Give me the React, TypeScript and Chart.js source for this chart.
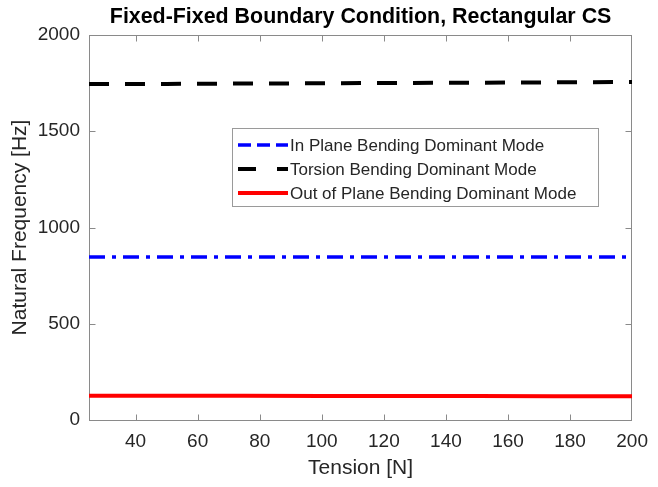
import React, { useEffect, useRef } from 'react';
import { Chart, registerables } from 'chart.js';

Chart.register(...registerables);

const tension = [25, 50, 75, 100, 125, 150, 175, 200];
const inPlane = [847, 847, 847, 847, 847, 847, 847, 847];
const torsion = [1745, 1746, 1748, 1749, 1751, 1752, 1754, 1756];
const outOfPlane = [126, 126, 126, 125, 125, 125, 124, 124];
const xTicks = [40, 60, 80, 100, 120, 140, 160, 180, 200];
const yTicks = [0, 500, 1000, 1500, 2000];
const titleText = 'Fixed-Fixed Boundary Condition, Rectangular CS';
const xTitle = 'Tension [N]';
const yTitle = 'Natural Frequency [Hz]';
const seriesNames = [
  'In Plane Bending Dominant Mode',
  'Torsion Bending Dominant Mode',
  'Out of Plane Bending Dominant Mode',
];

const FONT = "'Liberation Sans', Arial, Helvetica, sans-serif";
const AXIS = '#8a8a8a';
const TEXT = '#262626';

const seriesStyles = [
  { color: '#0000ff', width: 3.5, dash: [16, 7, 4, 7], legendDash: [13, 6] },
  { color: '#000000', width: 4, dash: [20, 16], legendDash: [18, 21] },
  { color: '#ff0000', width: 4, dash: [] as number[], legendDash: [] as number[] },
];

const framePlugin = {
  id: 'frame',
  beforeDatasetsDraw(chart: any) {
    const { ctx, chartArea: a, scales } = chart;
    const L = Math.round(a.left) + 0.5;
    const R = Math.round(a.right) - 0.5;
    const T = Math.round(a.top) + 0.5;
    const B = Math.round(a.bottom) + 0.5;
    ctx.save();
    ctx.strokeStyle = AXIS;
    ctx.lineWidth = 1;
    ctx.strokeRect(L, T, R - L, B - T);
    const tl = 6;
    ctx.beginPath();
    for (const v of xTicks) {
      const px = Math.round(scales.x.getPixelForValue(v)) + 0.5;
      if (px <= L + 1 || px >= R - 1) continue;
      ctx.moveTo(px, B);
      ctx.lineTo(px, B - tl);
      ctx.moveTo(px, T);
      ctx.lineTo(px, T + tl);
    }
    for (const v of yTicks) {
      const py = Math.round(scales.y.getPixelForValue(v)) + 0.5;
      if (py <= T + 1 || py >= B - 1) continue;
      ctx.moveTo(L, py);
      ctx.lineTo(L + tl, py);
      ctx.moveTo(R, py);
      ctx.lineTo(R - tl, py);
    }
    ctx.stroke();
    ctx.restore();
  },
  afterDraw(chart: any) {
    const { ctx, chartArea: a } = chart;
    ctx.save();
    // title
    ctx.fillStyle = '#000000';
    ctx.font = `bold 21.4px ${FONT}`;
    ctx.textAlign = 'center';
    ctx.textBaseline = 'middle';
    ctx.fillText(titleText, (a.left + a.right) / 2, 17);
    // legend
    const bx = 232.5, by = 128.5, bw = 366, bh = 78;
    ctx.fillStyle = '#ffffff';
    ctx.fillRect(bx, by, bw, bh);
    ctx.strokeStyle = '#9a9a9a';
    ctx.lineWidth = 1;
    ctx.strokeRect(bx, by, bw, bh);
    ctx.font = `17px ${FONT}`;
    ctx.textAlign = 'left';
    ctx.textBaseline = 'middle';
    seriesNames.forEach((name, i) => {
      const y = 145 + i * 24;
      const s = seriesStyles[i];
      ctx.beginPath();
      ctx.setLineDash(s.legendDash);
      ctx.strokeStyle = s.color;
      ctx.lineWidth = s.width;
      ctx.moveTo(238, y);
      ctx.lineTo(288, y);
      ctx.stroke();
      ctx.setLineDash([]);
      ctx.fillStyle = TEXT;
      ctx.fillText(name, 290, y + 1);
    });
    ctx.restore();
  },
};

export default function App() {
  const ref = useRef<HTMLCanvasElement | null>(null);
  useEffect(() => {
    if (!ref.current) return;
    const series = [inPlane, torsion, outOfPlane];
    const chart = new Chart(ref.current, {
      type: 'line',
      data: {
        datasets: series.map((vals, i) => ({
          label: seriesNames[i],
          data: tension.map((x, j) => ({ x, y: vals[j] })),
          borderColor: seriesStyles[i].color,
          borderWidth: seriesStyles[i].width,
          borderDash: seriesStyles[i].dash,
          pointRadius: 0,
          fill: false,
          tension: 0,
        })),
      },
      options: {
        animation: false,
        responsive: true,
        maintainAspectRatio: false,
        events: [],
        layout: { padding: { top: 35, right: 16, left: 0, bottom: 0 } },
        plugins: {
          legend: { display: false },
          title: { display: false },
          tooltip: { enabled: false },
        },
        scales: {
          x: {
            type: 'linear',
            min: 25,
            max: 200,
            grid: { display: false, drawTicks: false },
            border: { display: false },
            afterBuildTicks: (s: any) => {
              s.ticks = xTicks.map((v) => ({ value: v }));
            },
            afterFit: (s: any) => {
              s.height = 67;
            },
            ticks: {
              font: { family: FONT, size: 19 },
              color: TEXT,
              padding: 10,
              maxRotation: 0,
              autoSkip: false,
              callback: (v: any) => String(v),
            },
            title: {
              display: true,
              text: xTitle,
              font: { family: FONT, size: 21 },
              color: TEXT,
              padding: { top: 0, bottom: 6 },
            },
          },
          y: {
            type: 'linear',
            min: 0,
            max: 2000,
            grid: { display: false, drawTicks: false },
            border: { display: false },
            afterBuildTicks: (s: any) => {
              s.ticks = yTicks.map((v) => ({ value: v }));
            },
            afterFit: (s: any) => {
              s.width = 89;
            },
            ticks: {
              font: { family: FONT, size: 19 },
              color: TEXT,
              padding: 9,
              autoSkip: false,
              callback: (v: any) => String(v),
            },
            title: {
              display: true,
              text: yTitle,
              font: { family: FONT, size: 21 },
              color: TEXT,
              padding: { top: 8, bottom: 0 },
            },
          },
        },
      },
      plugins: [framePlugin],
    } as any);
    return () => chart.destroy();
  }, []);
  return (
    <div style={{ position: 'fixed', left: 0, top: 0, width: 658, height: 487 }}>
      <canvas ref={ref} />
    </div>
  );
}
